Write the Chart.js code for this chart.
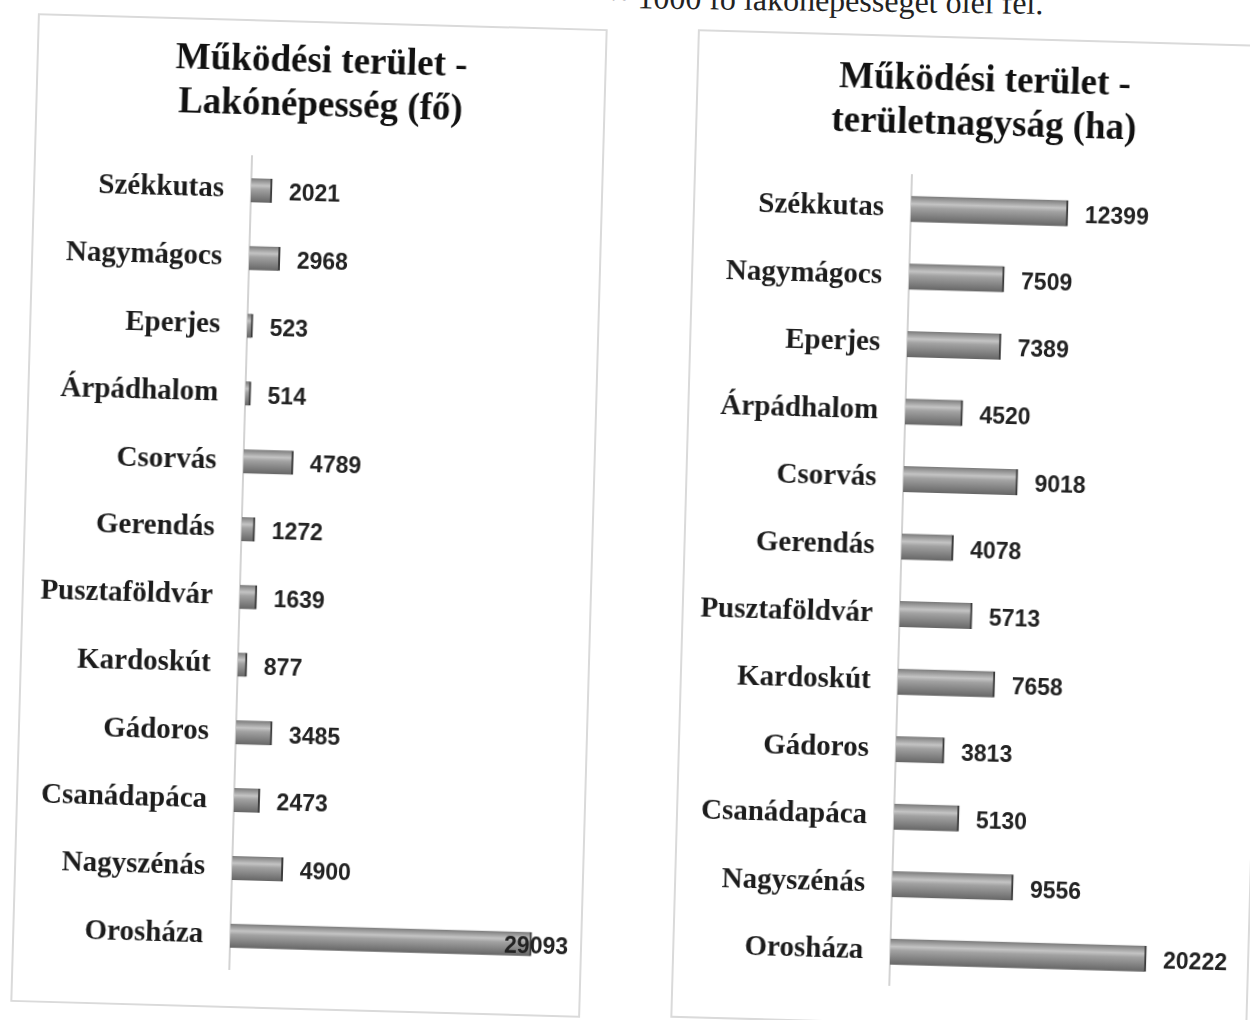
<!DOCTYPE html>
<html>
<head>
<meta charset="utf-8">
<script src="https://cdn.jsdelivr.net/npm/chart.js@4.4.1/dist/chart.umd.min.js"></script>
<style>
    body { margin: 0; background: #ffffff; width: 1250px; height: 1020px; overflow: hidden; position: relative; }
    .panel { position: absolute; background: #fff; outline: 2px solid #dadada; transform: rotate(1.6deg); }
    .panel canvas { position: absolute; left: 0; top: 0; }
    #topText { position: absolute; left: 612px; top: -18px; font: 32px 'Liberation Serif', serif; color: #222; transform: rotate(0.8deg); white-space: nowrap; }
</style>
</head>
<body>
<div id="topText">~ 1000 fő lakónépességet ölel fel.</div>
<div class="panel" id="leftPanel" style="left:26px; top:23px; width:566px; height:985px;">
    <canvas id="popCanvas"></canvas>
</div>
<div class="panel" id="rightPanel" style="left:686px; top:39px; width:573px; height:985px;">
    <canvas id="areaCanvas"></canvas>
</div>
<script>
const settlements = ['Székkutas', 'Nagymágocs', 'Eperjes', 'Árpádhalom', 'Csorvás', 'Gerendás',
    'Pusztaföldvár', 'Kardoskút', 'Gádoros', 'Csanádapáca', 'Nagyszénás', 'Orosháza'];
const population = [2021, 2968, 523, 514, 4789, 1272, 1639, 877, 3485, 2473, 4900, 29093];
const area = [12399, 7509, 7389, 4520, 9018, 4078, 5713, 7658, 3813, 5130, 9556, 20222];

const popTitle = ['Működési terület -', 'Lakónépesség (fő)'];
const areaTitle = ['Működési terület -', 'területnagyság (ha)'];

const labelColor = '#1c1c1c';
const axisLineColor = '#d3d3d3';

// value labels next to the bar ends, pushed back onto the bar if they would leave the panel
const valueLabels = {
    id: 'valueLabels',
    afterDatasetsDraw(chart) {
        const ctx = chart.ctx;
        const meta = chart.getDatasetMeta(0);
        const values = chart.data.datasets[0].data;
        ctx.save();
        ctx.font = 'bold 23px "Liberation Sans", Arial, sans-serif';
        ctx.fillStyle = '#222222';
        ctx.textBaseline = 'middle';
        ctx.textAlign = 'left';
        meta.data.forEach(function(bar, i) {
            const text = String(values[i]);
            const w = ctx.measureText(text).width;
            let x = bar.x + 17;
            if (x + w > chart.width - 12) x = chart.width - 12 - w;
            ctx.fillText(text, x, bar.y + 3);
        });
        ctx.restore();
    }
};

function barGradient(thickness) {
    return function(context) {
        const chart = context.chart;
        if (!chart.chartArea || !chart.scales.y) return '#8a8a8a';
        const y = chart.scales.y.getPixelForValue(context.dataIndex);
        const g = chart.ctx.createLinearGradient(0, y - thickness / 2, 0, y + thickness / 2);
        g.addColorStop(0, '#7a7a7a');
        g.addColorStop(0.3, '#c4c4c4');
        g.addColorStop(0.45, '#a2a2a2');
        g.addColorStop(1, '#666666');
        return g;
    };
}

function makeChart(canvasId, width, height, values, title, xMax, thickness, titlePad) {
    const canvas = document.getElementById(canvasId);
    canvas.width = width;
    canvas.height = height;
    return new Chart(canvas.getContext('2d'), {
        type: 'bar',
        data: {
            labels: settlements,
            datasets: [{
                data: values,
                backgroundColor: barGradient(thickness),
                borderColor: '#3a3a3a',
                borderWidth: { top: 0, right: 2, bottom: 0, left: 0 },
                borderSkipped: false,
                barThickness: thickness
            }]
        },
        options: {
            indexAxis: 'y',
            responsive: false,
            animation: false,
            layout: { padding: { left: 0, right: 0, top: 0, bottom: 33 } },
            plugins: {
                legend: { display: false },
                tooltip: { enabled: false },
                title: {
                    display: true,
                    text: title,
                    color: '#111111',
                    font: { family: "'Liberation Serif', 'Times New Roman', serif", size: 37, weight: 'bold', lineHeight: 1.19 },
                    padding: titlePad
                }
            },
            scales: {
                x: { display: false, min: 0, max: xMax },
                y: {
                    afterFit: function(scale) { scale.width = 216; },
                    grid: { display: false },
                    border: { display: true, color: axisLineColor, width: 2 },
                    ticks: {
                        color: labelColor,
                        padding: 19,
                        font: { family: "'Liberation Serif', 'Times New Roman', serif", size: 29, weight: 'bold' }
                    }
                }
            }
        },
        plugins: [valueLabels]
    });
}

makeChart('popCanvas', 566, 985, population, popTitle, 33800, 24, { top: 17, bottom: 30 });
makeChart('areaCanvas', 573, 985, area, areaTitle, 28200, 26, { top: 20, bottom: 30 });
</script>
</body>
</html>
